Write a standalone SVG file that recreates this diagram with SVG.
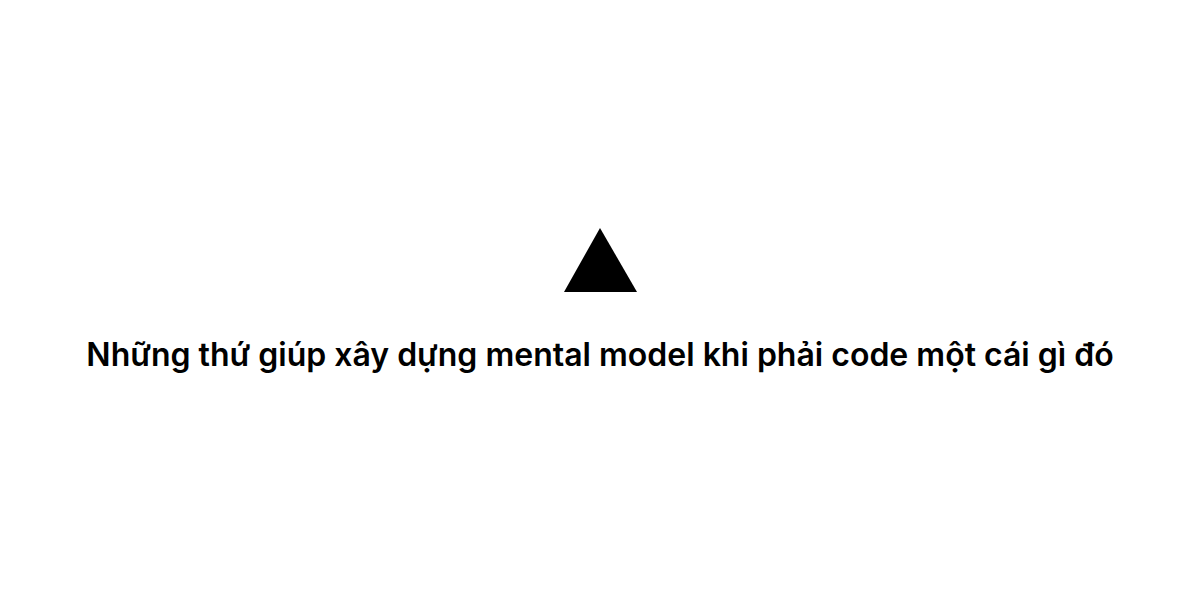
<svg xmlns="http://www.w3.org/2000/svg" width="1200" height="600" viewBox="0 0 1200 600">
<style>
.lbl{font-family:Inter,"Noto Sans",sans-serif;font-weight:600;font-size:32px;fill:#000}
</style>
<rect width="1200" height="600" fill="#fff"/>
<g id="node-triangle">
<polygon points="600,228 564,292 637,292" fill="#000"/>
</g>
<g id="connectors"></g>
<g id="node-title">
<text class="lbl" x="600" y="366" text-anchor="middle">Những thứ giúp xây dựng mental model khi phải code một cái gì đó</text>
</g>
</svg>
